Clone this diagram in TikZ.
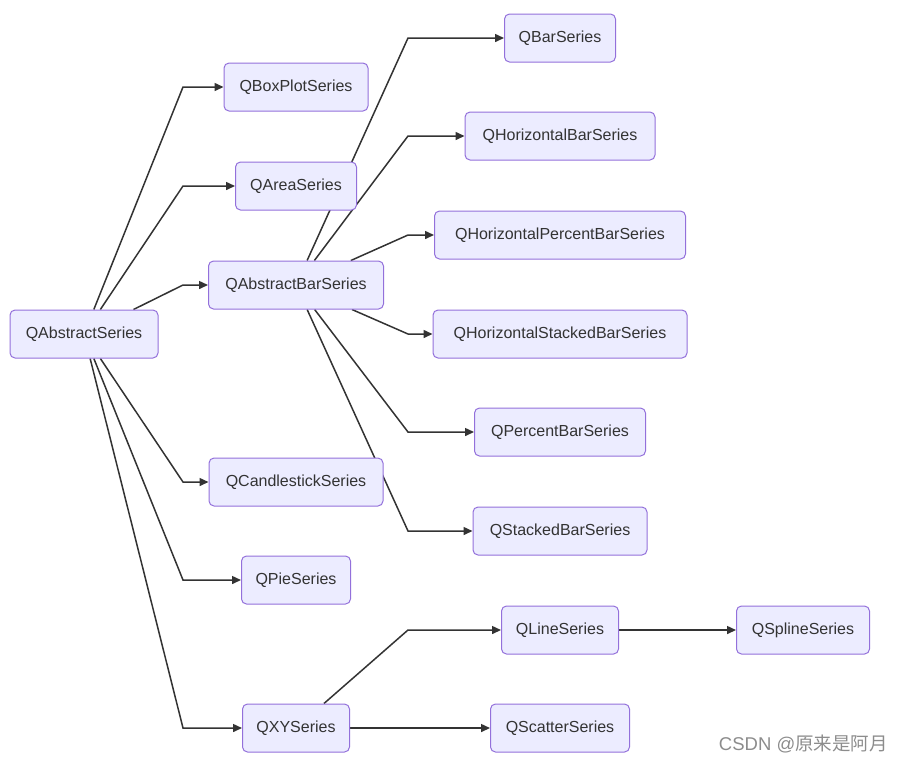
\documentclass[tikz,border=0pt]{standalone}
\usepackage{fontspec}
\setmainfont{Liberation Sans}
\newfontfamily\cjk{Noto Sans CJK SC}
\usetikzlibrary{arrows.meta,backgrounds}
\definecolor{nodefill}{HTML}{ECECFF}
\definecolor{nodeline}{HTML}{9370DB}
\definecolor{ink}{HTML}{333333}
\tikzset{
  cls/.style={draw=nodeline, fill=nodefill, line width=1pt, rounded corners=5pt,
    minimum height=48pt, inner xsep=4pt, inner ysep=0pt, text=ink,
    font=\fontsize{16pt}{19pt}\selectfont},
  edge/.style={draw=ink, line width=1.5pt, -{Triangle[length=9pt,width=8pt]}},
}
\begin{document}
\begin{tikzpicture}[x=1pt,y=-1pt]
\useasboundingbox (0,0) rectangle (901,764);
\node[cls, minimum width=148pt] (as) at (84,334) {QAbstractSeries};
\node[cls, minimum width=144pt] (box) at (296,87) {QBoxPlotSeries};
\node[cls, minimum width=121pt] (area) at (296,186) {QAreaSeries};
\node[cls, minimum width=175pt] (abar) at (296,285) {QAbstractBarSeries};
\node[cls, minimum width=174pt] (candle) at (296,482) {QCandlestickSeries};
\node[cls, minimum width=109pt] (pie) at (296,580) {QPieSeries};
\node[cls, minimum width=107pt] (xy) at (296,728) {QXYSeries};
\node[cls, minimum width=111pt] (bar) at (560,38) {QBarSeries};
\node[cls, minimum width=190pt] (hbar) at (560,136) {QHorizontalBarSeries};
\node[cls, minimum width=251pt] (hpbar) at (560,235) {QHorizontalPercentBarSeries};
\node[cls, minimum width=254pt] (hsbar) at (560,334) {QHorizontalStackedBarSeries};
\node[cls, minimum width=171pt] (pbar) at (560,432) {QPercentBarSeries};
\node[cls, minimum width=174pt] (sbar) at (560,531) {QStackedBarSeries};
\node[cls, minimum width=117pt] (line) at (560,630) {QLineSeries};
\node[cls, minimum width=139pt] (scatter) at (560,728) {QScatterSeries};
\node[cls, minimum width=133pt] (spline) at (803,630) {QSplineSeries};
\coordinate (c1) at (183,0);
\coordinate (c2) at (408,0);
\begin{scope}[on background layer]
\foreach \t in {box,area,abar,candle,pie,xy}
  \draw[edge] (as) -- (\t -| c1) -- (\t);
\foreach \t in {bar,hbar,hpbar,hsbar,pbar,sbar}
  \draw[edge] (abar) -- (\t -| c2) -- (\t);
\draw[edge] (xy) -- (line -| c2) -- (line);
\draw[edge] (xy) -- (scatter);
\draw[edge] (line) -- (spline);
\end{scope}
\node[text=black!45, font=\fontsize{18.5pt}{21pt}\selectfont, anchor=east, inner sep=0pt] (wm) at (888,744) {CSDN @{\cjk 原来是阿月}};
\end{tikzpicture}
\end{document}
